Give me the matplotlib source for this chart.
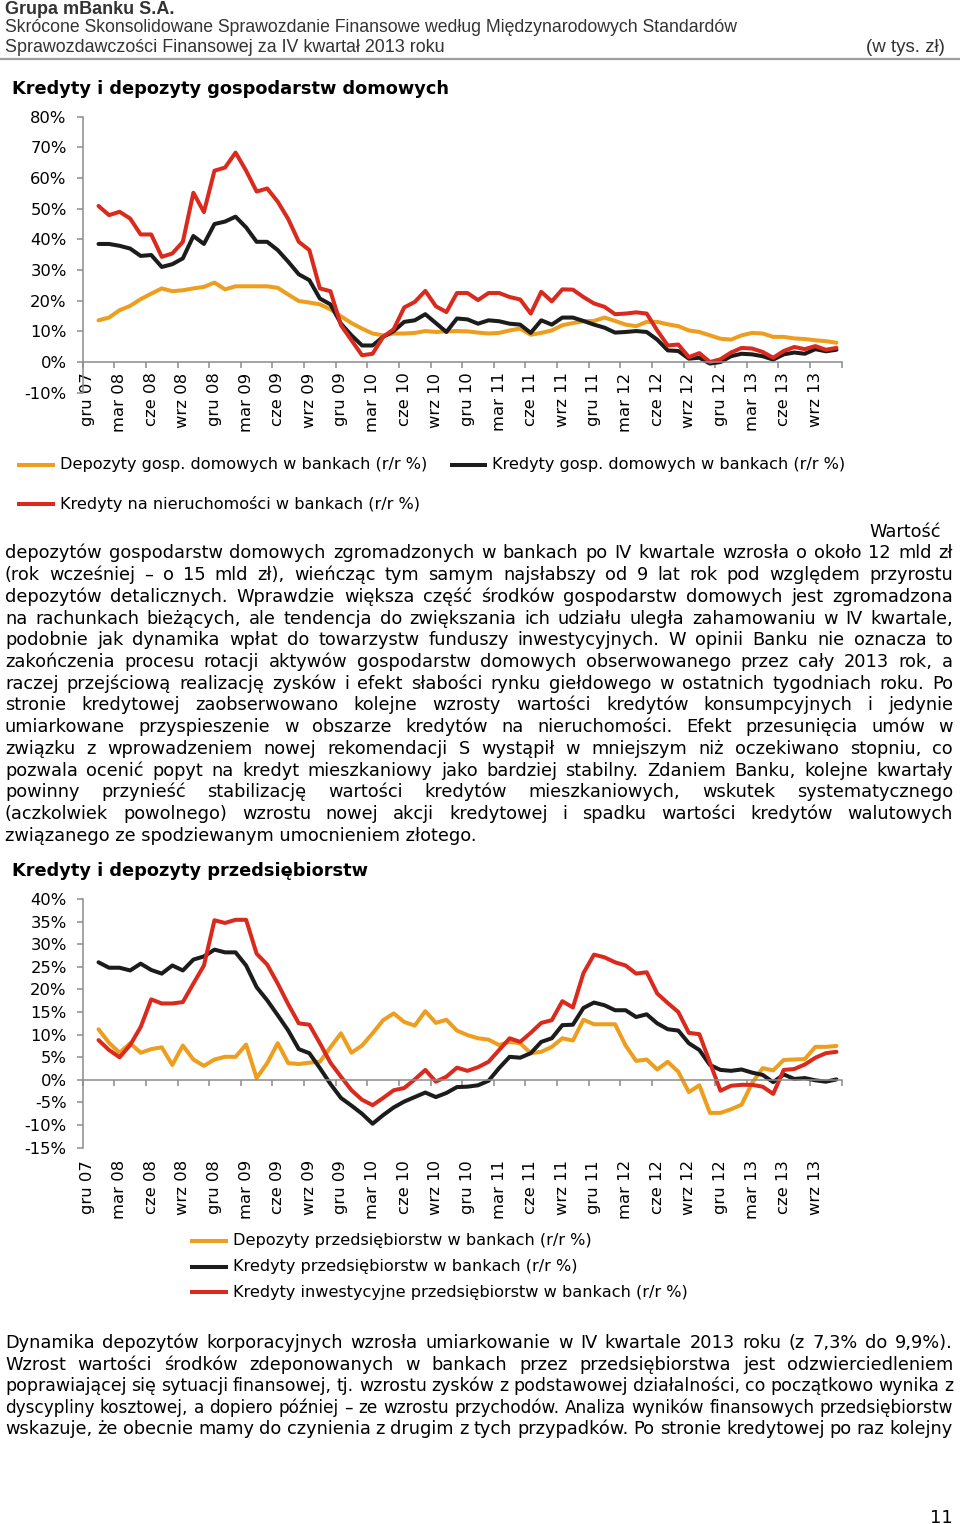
import numpy as np
import matplotlib
matplotlib.use('Agg')
import matplotlib.pyplot as plt
from matplotlib.lines import Line2D

plt.rcParams['font.family'] = ['DejaVu Sans']

W, H = 960, 1524

# category axis: gru 07 .. lis 13 (72 months), label every 3rd month
tick_labels = ['gru 07', 'mar 08', 'cze 08', 'wrz 08', 'gru 08', 'mar 09', 'cze 09', 'wrz 09',
               'gru 09', 'mar 10', 'cze 10', 'wrz 10', 'gru 10', 'mar 11', 'cze 11', 'wrz 11',
               'gru 11', 'mar 12', 'cze 12', 'wrz 12', 'gru 12', 'mar 13', 'cze 13', 'wrz 13']
n_months = 72

# households (r/r %), first month (gru 07) empty
hh_deposits = [None, 13.6, 14.5, 16.9, 18.3, 20.5, 22.3, 24.0, 23.1, 23.4, 24.0, 24.5, 25.9, 23.7,
               24.7, 24.7, 24.7, 24.7, 24.2, 22.0, 19.9, 19.4, 18.8, 17.2, 14.9, 12.7, 10.9, 9.3,
               8.7, 9.3, 9.3, 9.5, 10.1, 9.8, 10.0, 10.1, 10.0, 9.6, 9.3, 9.5, 10.3, 10.9, 8.9,
               9.5, 10.3, 12.0, 12.7, 13.3, 13.4, 14.5, 13.4, 12.2, 11.7, 13.1, 13.1, 12.3, 11.7,
               10.3, 9.8, 8.7, 7.6, 7.3, 8.7, 9.5, 9.3, 8.2, 8.2, 7.7, 7.5, 7.1, 6.8, 6.3]
hh_loans = [None, 38.5, 38.5, 37.9, 37.0, 34.6, 34.9, 31.0, 31.9, 33.8, 41.1, 38.5, 45.0, 45.8,
            47.4, 43.9, 39.2, 39.2, 36.5, 32.7, 28.6, 26.7, 20.7, 18.8, 12.5, 8.7, 5.4, 5.4,
            8.2, 10.1, 13.1, 13.6, 15.6, 12.7, 9.8, 14.2, 13.9, 12.5, 13.6, 13.3, 12.5, 12.2, 9.5,
            13.6, 12.2, 14.5, 14.5, 13.4, 12.2, 11.2, 9.6, 9.8, 10.1, 9.8, 7.3, 3.8, 3.6,
            1.1, 1.4, -0.5, 0.0, 1.9, 2.7, 2.5, 1.9, 0.8, 2.5, 3.1, 2.7, 4.2, 3.5, 4.0]
hh_mortgage = [None, 50.9, 47.9, 49.0, 46.8, 41.6, 41.6, 34.3, 35.4, 39.2, 55.2, 48.9, 62.4, 63.4,
               68.3, 62.4, 55.6, 56.6, 52.3, 46.6, 39.2, 36.5, 24.0, 23.1, 12.0, 7.1, 2.2, 2.7,
               8.2, 10.7, 17.8, 19.6, 23.2, 18.2, 16.3, 22.5, 22.5, 20.2, 22.5, 22.5, 21.2, 20.4, 15.8,
               22.9, 19.8, 23.7, 23.6, 21.2, 19.1, 18.0, 15.6, 15.8, 16.2, 15.8, 10.3, 5.4, 5.7,
               1.6, 2.9, 0.0, 0.9, 3.1, 4.6, 4.4, 3.3, 1.4, 3.6, 4.9, 4.2, 5.2, 4.0, 4.6]

# enterprises (r/r %)
ent_deposits = [None, 11.2, 8.2, 6.0, 8.1, 6.0, 6.8, 7.2, 3.3, 7.6, 4.5, 3.1, 4.5, 5.1,
                5.1, 7.8, 0.4, 3.7, 8.1, 3.7, 3.5, 3.8, 4.0, 7.2, 10.3, 6.0, 7.6, 10.3,
                13.2, 14.7, 12.8, 12.0, 15.2, 12.6, 13.3, 10.9, 9.9, 9.2, 8.9, 7.7, 8.4, 8.1, 5.9,
                6.2, 7.3, 9.2, 8.7, 13.3, 12.3, 12.3, 12.3, 7.6, 4.2, 4.5, 2.3, 4.0, 1.8,
                -2.7, -1.2, -7.3, -7.3, -6.5, -5.5, -0.7, 2.6, 2.1, 4.4, 4.5, 4.6, 7.3, 7.3, 7.5]
ent_loans = [None, 26.0, 24.8, 24.8, 24.2, 25.7, 24.3, 23.5, 25.3, 24.2, 26.6, 27.3, 28.8, 28.2,
             28.2, 25.3, 20.5, 17.6, 14.3, 10.9, 6.8, 5.9, 2.6, -0.9, -4.0, -5.7, -7.5, -9.7,
             -7.8, -6.1, -4.8, -3.8, -2.8, -3.8, -2.9, -1.6, -1.5, -1.2, -0.2, 2.6, 5.1, 4.9, 5.9,
             8.4, 9.2, 12.1, 12.2, 15.9, 17.1, 16.5, 15.4, 15.4, 13.9, 14.5, 12.5, 11.2, 10.9,
             8.1, 6.6, 3.3, 2.2, 2.0, 2.3, 1.6, 1.1, -0.5, 1.2, 0.2, 0.4, -0.1, -0.4, 0.1]
ent_invest = [None, 8.8, 6.6, 5.0, 7.7, 11.7, 17.8, 16.9, 16.9, 17.2, 21.3, 25.3, 35.3, 34.7,
              35.4, 35.4, 27.9, 25.5, 21.3, 16.7, 12.5, 12.2, 8.1, 3.8, 0.7, -2.3, -4.4, -5.6,
              -4.0, -2.3, -1.8, 0.1, 2.2, -0.4, 0.7, 2.7, 2.0, 2.8, 4.0, 6.6, 9.2, 8.4, 10.4,
              12.6, 13.2, 17.4, 16.0, 23.6, 27.7, 27.1, 26.0, 25.3, 23.5, 23.8, 19.1, 17.0, 15.0,
              10.4, 10.1, 3.8, -2.4, -1.3, -1.1, -1.1, -1.5, -3.1, 2.2, 2.4, 3.4, 4.9, 5.9, 6.2]

hh_names = ['Depozyty gosp. domowych w bankach (r/r %)',
            'Kredyty gosp. domowych w bankach (r/r %)',
            'Kredyty na nieruchomości w bankach (r/r %)']
ent_names = ['Depozyty przedsiębiorstw w bankach (r/r %)',
             'Kredyty przedsiębiorstw w bankach (r/r %)',
             'Kredyty inwestycyjne przedsiębiorstw w bankach (r/r %)']

para1 = [
    'depozytów gospodarstw domowych zgromadzonych w bankach po IV kwartale wzrosła o około 12 mld zł',
    '(rok wcześniej – o 15 mld zł), wieńcząc tym samym najsłabszy od 9 lat rok pod względem przyrostu',
    'depozytów detalicznych. Wprawdzie większa część środków gospodarstw domowych jest zgromadzona',
    'na rachunkach bieżących, ale tendencja do zwiększania ich udziału uległa zahamowaniu w IV kwartale,',
    'podobnie jak dynamika wpłat do towarzystw funduszy inwestycyjnych. W opinii Banku nie oznacza to',
    'zakończenia procesu rotacji aktywów gospodarstw domowych obserwowanego przez cały 2013 rok, a',
    'raczej przejściową realizację zysków i efekt słabości rynku giełdowego w ostatnich tygodniach roku. Po',
    'stronie kredytowej zaobserwowano kolejne wzrosty wartości kredytów konsumpcyjnych i jedynie',
    'umiarkowane przyspieszenie w obszarze kredytów na nieruchomości. Efekt przesunięcia umów w',
    'związku z wprowadzeniem nowej rekomendacji S wystąpił w mniejszym niż oczekiwano stopniu, co',
    'pozwala ocenić popyt na kredyt mieszkaniowy jako bardziej stabilny. Zdaniem Banku, kolejne kwartały',
    'powinny przynieść stabilizację wartości kredytów mieszkaniowych, wskutek systematycznego',
    '(aczkolwiek powolnego) wzrostu nowej akcji kredytowej i spadku wartości kredytów walutowych',
    'związanego ze spodziewanym umocnieniem złotego.',
]
para2 = [
    'Dynamika depozytów korporacyjnych wzrosła umiarkowanie w IV kwartale 2013 roku (z 7,3% do 9,9%).',
    'Wzrost wartości środków zdeponowanych w bankach przez przedsiębiorstwa jest odzwierciedleniem',
    'poprawiającej się sytuacji finansowej, tj. wzrostu zysków z podstawowej działalności, co początkowo wynika z',
    'dyscypliny kosztowej, a dopiero później – ze wzrostu przychodów. Analiza wyników finansowych przedsiębiorstw',
    'wskazuje, że obecnie mamy do czynienia z drugim z tych przypadków. Po stronie kredytowej po raz kolejny',
]

ORANGE = '#EE9E1E'
BLACK = '#1C1C1C'
RED = '#DA2A1E'
GRAY = '#8C8C8C'
BODY = 12.8
LEG = 11.6
TICK = 11.8
LW = 2.9
BASE = 6  # baseline offset (px) below a body line's visual centre

fig = plt.figure(figsize=(9.6, 15.24), dpi=100)
r = fig.canvas.get_renderer()


def put(x, y, s, **kw):
    kw.setdefault('va', 'center')
    return fig.text(x / W, 1 - y / H, s, **kw)


def fitted(x, y, s, width, ha='left', **kw):
    t = put(x, y, s, ha=ha, fontsize=10, **kw)
    w = t.get_window_extent(r).width
    t.set_fontsize(10 * width / w)
    return t


def justified(y, line, full=True, x0=5, x1=953):
    yb = y + BASE
    if not full:
        put(x0, yb, line, fontsize=BODY, va='baseline')
        return
    words = line.split()
    ts = [put(x0, yb, w, fontsize=BODY, va='baseline') for w in words]
    ws = [t.get_window_extent(r).width for t in ts]
    space = 0.318 * BODY * 100 / 72
    gap = (x1 - x0 - sum(ws)) / (len(words) - 1)
    if gap < 0.9 * space:
        # line too long for this font: shrink it a little so words keep a normal gap
        scale = (x1 - x0 - (len(words) - 1) * 0.9 * space) / sum(ws)
        for t in ts:
            t.set_fontsize(BODY * scale)
        ws = [t.get_window_extent(r).width for t in ts]
        gap = (x1 - x0 - sum(ws)) / (len(words) - 1)
    x = x0
    for t, w in zip(ts, ws):
        t.set_x(x / W)
        x += w + gap


def hline(x0, x1, y, color, lw):
    fig.add_artist(Line2D([x0 / W, x1 / W], [1 - y / H, 1 - y / H], color=color, lw=lw,
                          solid_capstyle='butt', transform=fig.transFigure))


def make_chart(top, bottom, ylo, yhi, step, series, labels_at_zero):
    ax = fig.add_axes([82.7 / W, 1 - bottom / H, 759 / W, (bottom - top) / H])
    x = np.arange(n_months) + 0.5
    for vals, col in series:
        v = np.array([np.nan if a is None else a for a in vals], dtype=float)
        ax.plot(x, v, color=col, lw=LW, solid_joinstyle='round', solid_capstyle='round')
    ax.set_xlim(0, n_months)
    ax.set_ylim(ylo, yhi)
    for s in ['top', 'right']:
        ax.spines[s].set_visible(False)
    ax.spines['bottom'].set_position(('data', 0))
    for s in ['left', 'bottom']:
        ax.spines[s].set_color(GRAY)
        ax.spines[s].set_linewidth(1.1)
    yt = np.arange(ylo, yhi + 1, step)
    ax.set_yticks(yt)
    ax.set_yticklabels(['%d%%' % v for v in yt])
    ax.tick_params(axis='y', direction='out', length=4, width=1.1, color=GRAY, pad=7.5, labelsize=TICK)
    ax.set_xticks(np.arange(0, n_months + 1, 3))
    ax.set_xticklabels([])
    ax.tick_params(axis='x', which='major', direction='out', length=4, width=1.1, color=GRAY)
    centers = np.arange(0, n_months, 3) + 0.5
    if labels_at_zero:
        ax.set_xticks(centers, minor=True)
        ax.set_xticklabels(tick_labels, minor=True, rotation=90)
        ax.tick_params(axis='x', which='minor', length=0, pad=7.5, labelsize=TICK)
    else:
        sec = ax.secondary_xaxis(0.0)
        sec.spines['bottom'].set_visible(False)
        sec.set_xticks(centers)
        sec.set_xticklabels(tick_labels, rotation=90)
        sec.tick_params(axis='x', length=0, pad=9, labelsize=TICK)
    return ax


# header
fitted(5, 9.5, 'Grupa mBanku S.A.', 170, family='Liberation Sans', weight='bold', color='#333333')
fitted(5, 28, 'Skrócone Skonsolidowane Sprawozdanie Finansowe według Międzynarodowych Standardów', 732,
       family='Liberation Sans', color='#333333')
fitted(5, 47, 'Sprawozdawczości Finansowej za IV kwartał 2013 roku', 439,
       family='Liberation Sans', color='#333333')
fitted(945, 47, '(w tys. zł)', 79, ha='right', family='Liberation Sans', color='#333333')
hline(0, W, 59, '#9E9E9E', 1.6)

# chart 1: households
fitted(12, 89, 'Kredyty i depozyty gospodarstw domowych', 437, weight='bold')
make_chart(116.7, 392.7, -10, 80, 10,
           [(hh_deposits, ORANGE), (hh_loans, BLACK), (hh_mortgage, RED)], True)

hline(17, 55, 465, ORANGE, LW)
put(60, 465, hh_names[0], fontsize=LEG)
hline(450, 487, 465, BLACK, LW)
put(492, 465, hh_names[1], fontsize=LEG)
hline(17, 55, 504, RED, LW)
put(60, 504, hh_names[2], fontsize=LEG)

put(941, 531 + BASE, 'Wartość', fontsize=BODY, ha='right', va='baseline')
for k, line in enumerate(para1):
    justified(552.5 + k * 21.7, line, full=(k < len(para1) - 1))

# chart 2: enterprises
fitted(12, 871, 'Kredyty i depozyty przedsiębiorstw', 354, weight='bold')
make_chart(899, 1147.7, -15, 40, 5,
           [(ent_deposits, ORANGE), (ent_loans, BLACK), (ent_invest, RED)], False)

for k, (name, col) in enumerate(zip(ent_names, [ORANGE, BLACK, RED])):
    yy = 1241 + k * 25.5
    hline(190, 228, yy, col, LW)
    put(233, yy, name, fontsize=LEG)

for k, line in enumerate(para2):
    justified(1342 + k * 21.6, line)

put(953, 1517 + BASE, '11', fontsize=BODY, ha='right', va='baseline')

fig.savefig('out.png', dpi=100)
